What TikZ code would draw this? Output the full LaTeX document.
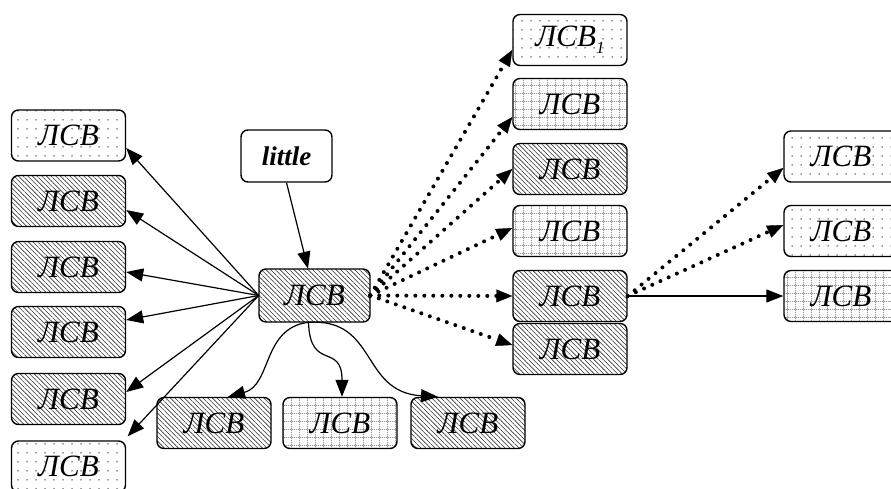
\documentclass[tikz,border=0pt]{standalone}
\usepackage{fontspec}
\setmainfont{Liberation Serif}
\usetikzlibrary{arrows.meta,patterns,patterns.meta}

% dashed square grid used as a fill
\pgfdeclarepatternformonly{dashgrid}{\pgfpointorigin}{\pgfpoint{8pt}{8pt}}{\pgfpoint{8pt}{8pt}}{%
  \pgfsetlinewidth{0.55pt}%
  \pgfsetdash{{1.4pt}{0.9pt}}{0pt}%
  \pgfpathmoveto{\pgfpoint{0pt}{4pt}}\pgfpathlineto{\pgfpoint{8pt}{4pt}}%
  \pgfpathmoveto{\pgfpoint{4pt}{0pt}}\pgfpathlineto{\pgfpoint{4pt}{8pt}}%
  \pgfusepath{stroke}}

\begin{document}
\begin{tikzpicture}[x=1pt,y=-1pt,
  box/.style={draw, line width=1.4pt, rounded corners=7pt, minimum width=114pt,
    minimum height=51pt, inner sep=0pt, font=\fontsize{31}{31}\selectfont\itshape},
  dotbox/.style={box, pattern={Dots[distance=9pt, radius=0.75pt]}, pattern color=black!80},
  hatchbox/.style={box, pattern={Lines[angle=-45, distance=3.3pt, line width=0.6pt]}, pattern color=black!80},
  gridbox/.style={box, pattern=dashgrid, pattern color=black!60},
  solidarrow/.style={line width=1.2pt, -{Triangle[length=17pt,width=13pt]}},
  dotarrow/.style={line width=4pt, dash pattern=on 0pt off 9pt, line cap=round,
    -{Triangle[length=16pt,width=13pt,line width=0.4pt]}}
]
\useasboundingbox (0,0) rectangle (891,489);
\clip (0,0) rectangle (891,489);

% central node and its label source
\node[hatchbox, minimum width=111pt, minimum height=53pt] (c) at (314.5,295.5) {ЛСВ};
\node[box, minimum width=91pt, minimum height=52pt,
  font=\fontsize{27}{27}\selectfont\bfseries\itshape] (lt) at (286.5,156) {little};

% left column
\node[dotbox]   (L1) at (68.5,135.5) {ЛСВ};
\node[hatchbox] (L2) at (68.5,201) {ЛСВ};
\node[hatchbox] (L3) at (68.5,267) {ЛСВ};
\node[hatchbox] (L4) at (68.5,332) {ЛСВ};
\node[hatchbox] (L5) at (68.5,399) {ЛСВ};
\node[dotbox]   (L6) at (68.5,466.5) {ЛСВ};

% bottom row
\node[hatchbox] (B1) at (214,423) {ЛСВ};
\node[gridbox]  (B2) at (340,423) {ЛСВ};
\node[hatchbox] (B3) at (468,423) {ЛСВ};

% right column
\node[dotbox]   (R1) at (570,40) {ЛСВ\raisebox{-0.22em}{\fontsize{17}{17}\selectfont 1}};
\node[gridbox]  (R2) at (570,104) {ЛСВ};
\node[hatchbox] (R3) at (570,169) {ЛСВ};
\node[gridbox]  (R4) at (570,231) {ЛСВ};
\node[hatchbox] (R5) at (570,296) {ЛСВ};
\node[hatchbox] (R6) at (570,349) {ЛСВ};

% far right column
\node[dotbox]  (F1) at (841,156.5) {ЛСВ};
\node[dotbox]  (F2) at (841,231) {ЛСВ};
\node[gridbox] (F3) at (841,296) {ЛСВ};

% connectors
\draw[solidarrow] (lt.south) -- ([xshift=-6.5pt]c.north);

\draw[solidarrow] (c.west) -- ([yshift=-12.5pt]L1.east);
\draw[solidarrow] (c.west) -- ([yshift=-9pt]L2.east);
\draw[solidarrow] (c.west) -- ([yshift=-5pt]L3.east);
\draw[solidarrow] (c.west) -- ([yshift=12pt]L4.east);
\draw[solidarrow] (c.west) -- ([yshift=7pt]L5.east);
\draw[solidarrow] (c.west) -- ([xshift=1.5pt,yshift=4pt]L6.north east);

\draw[solidarrow] ([xshift=-6pt]c.south) .. controls (262,328) and (272,385) .. ([xshift=14pt]B1.north);
\draw[solidarrow] ([xshift=-6pt]c.south) .. controls (310,372) and (342,342) .. ([xshift=2pt]B2.north);
\draw[solidarrow] ([xshift=-6pt]c.south) .. controls (378,318) and (360,392) .. ([xshift=-30pt]B3.north);

\draw[dotarrow] (c.east) -- ([yshift=-10pt]R1.west);
\draw[dotarrow] (c.east) -- ([yshift=-13pt]R2.west);
\draw[dotarrow] (c.east) -- (R3.west);
\draw[dotarrow] (c.east) -- ([yshift=3pt]R4.west);
\draw[dotarrow] (c.east) -- (R5.west);
\draw[dotarrow] (c.east) -- ([yshift=4pt]R6.west);

\draw[dotarrow] (R5.east) -- ([yshift=-11.5pt]F1.west);
\draw[dotarrow] (R5.east) -- ([yshift=6pt]F2.west);
\draw[solidarrow] (R5.east) -- (F3.west);
\end{tikzpicture}
\end{document}
